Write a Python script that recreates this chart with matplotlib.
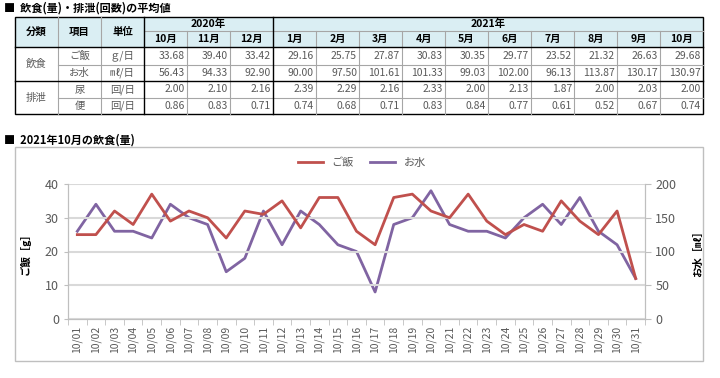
import matplotlib
matplotlib.use("Agg")
import matplotlib.pyplot as plt
from matplotlib.patches import Rectangle

plt.rcParams['font.family'] = ['Noto Sans CJK JP', 'DejaVu Sans']

# ---------- table data ----------
years = ["2020年", "2021年"]
year_spans = [3, 10]
months = ["10月", "11月", "12月", "1月", "2月", "3月", "4月", "5月", "6月", "7月", "8月", "9月", "10月"]
groups = ["飲食", "排泄"]
items = ["ご飯", "お水", "尿", "便"]
units = ["ｇ/日", "㎖/日", "回/日", "回/日"]
rice_avg = [33.68, 39.40, 33.42, 29.16, 25.75, 27.87, 30.83, 30.35, 29.77, 23.52, 21.32, 26.63, 29.68]
water_avg = [56.43, 94.33, 92.90, 90.00, 97.50, 101.61, 101.33, 99.03, 102.00, 96.13, 113.87, 130.17, 130.97]
urine_avg = [2.00, 2.10, 2.16, 2.39, 2.29, 2.16, 2.33, 2.00, 2.13, 1.87, 2.00, 2.03, 2.00]
stool_avg = [0.86, 0.83, 0.71, 0.74, 0.68, 0.71, 0.83, 0.84, 0.77, 0.61, 0.52, 0.67, 0.74]

# ---------- daily data, Oct 2021 ----------
days = [f"10/{d:02d}" for d in range(1, 32)]
rice = [25, 25, 32, 28, 37, 29, 32, 30, 24, 32, 31, 35, 27, 36, 36, 26,
        22, 36, 37, 32, 30, 37, 29, 25, 28, 26, 35, 29, 25, 32, 12]
water = [130, 170, 130, 130, 120, 170, 150, 140, 70, 90, 160, 110, 160, 140, 110, 100,
         40, 140, 150, 190, 140, 130, 130, 120, 150, 170, 140, 180, 130, 110, 60]

RED = "#C0504D"
PURPLE = "#8064A2"
HEAD = "#DAEEF3"
GRID = "#D9D9D9"
TXT = "#595959"

W, H = 720, 378
fig = plt.figure(figsize=(W / 100, H / 100), dpi=100)

# overlay axes in pixel coords for table / titles / frame
bg = fig.add_axes([0, 0, 1, 1])
bg.set_xlim(0, W); bg.set_ylim(H, 0); bg.axis("off")

bg.text(4, 8, "■  飲食(量)・排泄(回数)の平均値", fontsize=8, fontweight="bold", va="center")

x0, cw = 15, 43
ncol = 3 + len(months)
xs = [x0 + i * cw for i in range(ncol + 1)]
ys = [17, 31, 47, 65, 81, 98, 114]

# header background
bg.add_patch(Rectangle((xs[0], ys[0]), xs[-1] - xs[0], ys[2] - ys[0], fc=HEAD, ec="none"))

thin = dict(color="#A6A6A6", lw=0.8)
thick = dict(color="black", lw=1.0)

# header labels
for i, lab in enumerate(["分類", "項目", "単位"]):
    bg.text((xs[i] + xs[i + 1]) / 2, (ys[0] + ys[2]) / 2, lab, ha="center", va="center",
            fontsize=7.5, fontweight="bold")
c = 3
year_edges = [3]
for yr, sp in zip(years, year_spans):
    bg.text((xs[c] + xs[c + sp]) / 2, (ys[0] + ys[1]) / 2, yr, ha="center", va="center",
            fontsize=7.5, fontweight="bold")
    c += sp
    year_edges.append(c)
for j, m in enumerate(months):
    bg.text((xs[3 + j] + xs[4 + j]) / 2, (ys[1] + ys[2]) / 2, m, ha="center", va="center",
            fontsize=7.5, fontweight="bold")

# body
rows = [rice_avg, water_avg, urine_avg, stool_avg]
for r, (item, unit, vals) in enumerate(zip(items, units, rows)):
    yc = (ys[2 + r] + ys[3 + r]) / 2
    bg.text((xs[1] + xs[2]) / 2, yc, item, ha="center", va="center", fontsize=7.5, color=TXT)
    bg.text((xs[2] + xs[3]) / 2, yc, unit, ha="center", va="center", fontsize=7.5, color=TXT)
    for j, v in enumerate(vals):
        bg.text(xs[4 + j] - 2, yc, f"{v:.2f}", ha="right", va="center", fontsize=7.5, color=TXT)
for g, lab in enumerate(groups):
    bg.text((xs[0] + xs[1]) / 2, (ys[2 + 2 * g] + ys[4 + 2 * g]) / 2, lab, ha="center",
            va="center", fontsize=7.5, color=TXT)

# table rules
for x in (xs[1], xs[2]):
    bg.plot([x, x], [ys[0], ys[-1]], **thin)
for k in range(4, len(xs) - 1):
    if k not in year_edges:
        bg.plot([xs[k], xs[k]], [ys[1], ys[-1]], **thin)
bg.plot([xs[3], xs[-1]], [ys[1], ys[1]], **thin)
for k in (3, 5):
    bg.plot([xs[1], xs[-1]], [ys[k], ys[k]], **thin)
for k in year_edges[:-1]:
    bg.plot([xs[k], xs[k]], [ys[0], ys[-1]], **thick)
bg.plot([xs[0], xs[-1]], [ys[2], ys[2]], **thick)
bg.plot([xs[0], xs[-1]], [ys[4], ys[4]], **thick)
bg.add_patch(Rectangle((xs[0], ys[0]), xs[-1] - xs[0], ys[-1] - ys[0], fc="none", ec="black", lw=1.0))

# chart section
bg.text(4, 140, "■  2021年10月の飲食(量)", fontsize=8, fontweight="bold", va="center")
bg.add_patch(Rectangle((15, 147), 688, 214, fc="none", ec="#BFBFBF", lw=1.0))

ax = fig.add_axes([68 / W, 1 - 319 / H, (645 - 68) / W, (319 - 184) / H])
ax2 = ax.twinx()
x = range(len(days))
l1, = ax.plot(x, rice, color=RED, lw=2, label="ご飯")
l2, = ax2.plot(x, water, color=PURPLE, lw=2, label="お水")
ax.set_zorder(ax2.get_zorder() + 1); ax.patch.set_visible(False)
ax.set_xlim(-0.5, len(days) - 0.5)
ax.set_ylim(0, 40); ax2.set_ylim(0, 200)
ax.set_yticks([0, 10, 20, 30, 40]); ax2.set_yticks([0, 50, 100, 150, 200])
ax.grid(axis="y", color=GRID, lw=1.5); ax.set_axisbelow(True)
ax.set_xticks(list(x))
ax.set_xticklabels(days, rotation=90, fontsize=7.5, color=TXT)
ax.set_xticks([i - 0.5 for i in range(len(days) + 1)], minor=True)
ax.tick_params(axis="x", which="major", length=0, pad=5)
ax.tick_params(axis="x", which="minor", length=4, color="#BFBFBF")
ax.tick_params(axis="y", length=3, color="#BFBFBF", labelsize=9, labelcolor=TXT)
ax2.tick_params(axis="y", length=4, color="#BFBFBF", labelsize=9, labelcolor=TXT)
for a in (ax, ax2):
    a.spines["top"].set_visible(False)
    for s in ("left", "right", "bottom"):
        a.spines[s].set_color("#BFBFBF")
ax.set_ylabel("ご飯［g］", fontsize=7.5, fontweight="bold", labelpad=10)
ax2.set_ylabel("お水［㎖］", fontsize=7.5, fontweight="bold", labelpad=12)

fig.legend([l1, l2], ["ご飯", "お水"], loc="center", bbox_to_anchor=(362 / W, 1 - 163 / H),
           ncol=2, frameon=False, fontsize=8, handlelength=2.2, columnspacing=1.5,
           labelcolor=TXT)

fig.savefig("out.png", dpi=100)
